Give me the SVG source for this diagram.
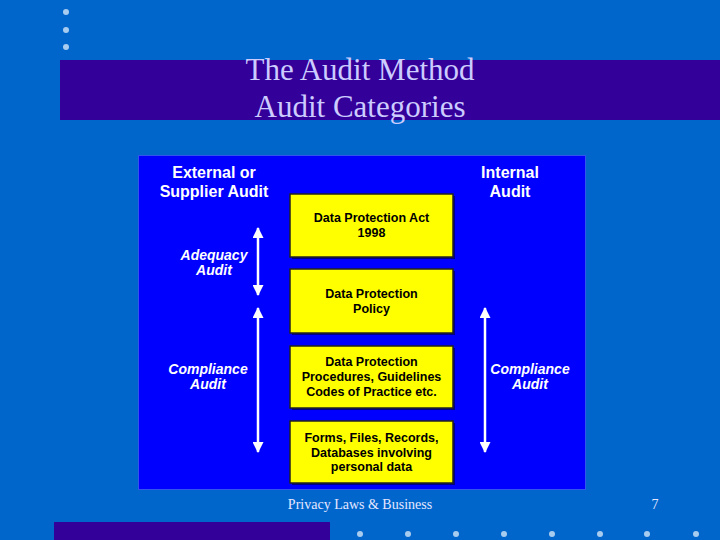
<svg xmlns="http://www.w3.org/2000/svg" width="720" height="540" viewBox="0 0 720 540">
<style>
.title{font-family:"Liberation Serif","Times New Roman",serif;font-size:31px;fill:#CCCCFF;text-anchor:middle}
.foot{font-family:"Liberation Serif","Times New Roman",serif;font-size:14px;fill:#E6E6FF;text-anchor:middle}
.hdr{font-family:"Liberation Sans",Arial,sans-serif;font-size:16px;font-weight:bold;fill:#FFFFFF;text-anchor:middle}
.lbl{font-family:"Liberation Sans",Arial,sans-serif;font-size:14px;font-weight:bold;font-style:italic;fill:#FFFFFF;text-anchor:middle}
.box{fill:#FFFF00;stroke:#222222;stroke-width:1.5}
.shadow{fill:#000033;opacity:0.6}
.bt{font-family:"Liberation Sans",Arial,sans-serif;font-size:12.5px;font-weight:bold;fill:#000000;text-anchor:middle}
.dot{fill:#A8CCF0}
.arr{stroke:#FFFFFF;stroke-width:2.5;fill:none;marker-start:url(#ah);marker-end:url(#ah)}
</style>
<defs>
<marker id="ah" viewBox="0 0 10 10" refX="9" refY="5" markerUnits="userSpaceOnUse" markerWidth="12" markerHeight="11" orient="auto-start-reverse">
<path d="M0,0 L10,5 L0,10 Z" fill="#FFFFFF"/>
</marker>
</defs>
<rect x="0" y="0" width="720" height="540" fill="#0066CC"/>
<g id="top-dots">
<circle class="dot" cx="66" cy="12" r="3"/>
<circle class="dot" cx="66" cy="30" r="3"/>
<circle class="dot" cx="66" cy="47" r="3"/>
</g>
<g id="title">
<rect x="60" y="60" width="660" height="60" fill="#330099"/>
<text class="title" x="360" y="80">The Audit Method</text>
<text class="title" x="360" y="117">Audit Categories</text>
</g>
<g id="panel">
<rect x="138.5" y="155.5" width="447" height="334" fill="#0000FF" stroke="#3355EE" stroke-width="1"/>
</g>
<g id="headers">
<text class="hdr" x="214" y="178">External or</text>
<text class="hdr" x="214" y="197">Supplier Audit</text>
<text class="hdr" x="510" y="178">Internal</text>
<text class="hdr" x="510" y="197">Audit</text>
</g>
<g id="box1">
<rect class="shadow" x="292" y="196" width="163" height="63"/>
<rect class="box" x="290" y="194" width="163" height="63"/>
<text class="bt" x="371.5" y="222">Data Protection Act</text>
<text class="bt" x="371.5" y="237">1998</text>
</g>
<g id="box2">
<rect class="shadow" x="292" y="271" width="163" height="64"/>
<rect class="box" x="290" y="269" width="163" height="64"/>
<text class="bt" x="371.5" y="298">Data Protection</text>
<text class="bt" x="371.5" y="313">Policy</text>
</g>
<g id="box3">
<rect class="shadow" x="292" y="348" width="163" height="62"/>
<rect class="box" x="290" y="346" width="163" height="62"/>
<text class="bt" x="371.5" y="366">Data Protection</text>
<text class="bt" x="371.5" y="381">Procedures, Guidelines</text>
<text class="bt" x="371.5" y="396">Codes of Practice etc.</text>
</g>
<g id="box4">
<rect class="shadow" x="292" y="423" width="163" height="62"/>
<rect class="box" x="290" y="421" width="163" height="62"/>
<text class="bt" x="371.5" y="442">Forms, Files, Records,</text>
<text class="bt" x="371.5" y="457">Databases involving</text>
<text class="bt" x="371.5" y="471">personal data</text>
</g>
<g id="connectors">
<line class="arr" x1="258" y1="228" x2="258" y2="295"/>
<line class="arr" x1="258" y1="308" x2="258" y2="452"/>
<line class="arr" x1="485" y1="308" x2="485" y2="452"/>
</g>
<g id="labels">
<text class="lbl" x="214" y="260">Adequacy</text>
<text class="lbl" x="214" y="275">Audit</text>
<text class="lbl" x="208" y="374">Compliance</text>
<text class="lbl" x="208" y="389">Audit</text>
<text class="lbl" x="530" y="374">Compliance</text>
<text class="lbl" x="530" y="389">Audit</text>
</g>
<g id="footer">
<text class="foot" x="360" y="509">Privacy Laws &amp; Business</text>
<text class="foot" x="655" y="509">7</text>
<rect x="54" y="522" width="276" height="18" fill="#330099"/>
<circle class="dot" cx="360" cy="534" r="3"/>
<circle class="dot" cx="408" cy="534" r="3"/>
<circle class="dot" cx="456" cy="534" r="3"/>
<circle class="dot" cx="504" cy="534" r="3"/>
<circle class="dot" cx="552" cy="534" r="3"/>
<circle class="dot" cx="600" cy="534" r="3"/>
<circle class="dot" cx="647" cy="534" r="3"/>
<circle class="dot" cx="696" cy="534" r="3"/>
</g>
</svg>
